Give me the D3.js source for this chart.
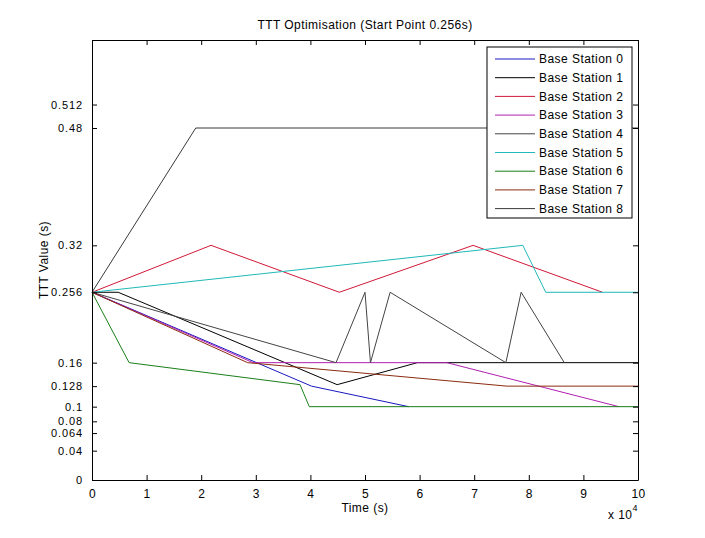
<!DOCTYPE html>
<html>
<head>
<meta charset="utf-8">
<script src="https://cdn.jsdelivr.net/npm/d3@7"></script>
<style>
  body { margin: 0; background: #fff; }
  svg { display: block; font-family: "Liberation Sans", Arial, sans-serif; }
  text { letter-spacing: 0.45px; }
  .y-axis text { letter-spacing: 0.9px; }
</style>
</head>
<body>
<svg id="chart"></svg>
<script>
// time values are in units of 10^4 s, as on the axis
const stationNames = ['Base Station 0', 'Base Station 1', 'Base Station 2', 'Base Station 3',
  'Base Station 4', 'Base Station 5', 'Base Station 6', 'Base Station 7', 'Base Station 8'];

const bs0Time = [0, 4.02, 5.8];
const bs0Ttt = [0.256, 0.128, 0.1];
const bs1Time = [0, 0.48, 4.49, 5.96, 10];
const bs1Ttt = [0.256, 0.256, 0.13, 0.16, 0.16];
const bs2Time = [0, 2.18, 4.53, 6.98, 9.35];
const bs2Ttt = [0.256, 0.32, 0.256, 0.32, 0.256];
const bs3Time = [0, 2.95, 6.5, 9.65];
const bs3Ttt = [0.256, 0.16, 0.16, 0.1];
const bs4Time = [0, 4.47, 5.0, 5.1, 5.46, 7.58, 7.86, 8.65];
const bs4Ttt = [0.256, 0.16, 0.256, 0.16, 0.256, 0.16, 0.256, 0.16];
const bs5Time = [0, 7.89, 8.31, 10];
const bs5Ttt = [0.256, 0.32, 0.256, 0.256];
const bs6Time = [0, 0.68, 3.81, 3.98, 10];
const bs6Ttt = [0.256, 0.16, 0.13, 0.1, 0.1];
const bs7Time = [0, 2.85, 7.6, 10];
const bs7Ttt = [0.256, 0.16, 0.128, 0.128];
const bs8Time = [0, 1.9, 10];
const bs8Ttt = [0.256, 0.48, 0.48];

const xTicks = [0, 1, 2, 3, 4, 5, 6, 7, 8, 9, 10];
const yTicks = [0, 0.04, 0.064, 0.08, 0.1, 0.128, 0.16, 0.256, 0.32, 0.48, 0.512];

const colors = ['#1818c0', '#000000', '#d01838', '#b020b0', '#444444',
  '#20b8b8', '#1a7f1a', '#8b2a10', '#3a3a3a'];

const times = [bs0Time, bs1Time, bs2Time, bs3Time, bs4Time, bs5Time, bs6Time, bs7Time, bs8Time];
const ttts = [bs0Ttt, bs1Ttt, bs2Ttt, bs3Ttt, bs4Ttt, bs5Ttt, bs6Ttt, bs7Ttt, bs8Ttt];
const series = stationNames.map((name, i) => ({
  name,
  color: colors[i],
  points: times[i].map((t, j) => ({ t, v: ttts[i][j] }))
}));

const width = 705;
const height = 538;
const margin = { top: 40, right: 67, bottom: 58, left: 92 };
const innerW = width - margin.left - margin.right;
const innerH = height - margin.top - margin.bottom;
const fontSize = 12;

const svg = d3.select('#chart')
  .attr('width', width)
  .attr('height', height);

const x = d3.scaleLinear().domain([0, 10]).range([margin.left, margin.left + innerW]);
const y = d3.scaleLinear().domain([0, 0.6]).range([margin.top + innerH, margin.top]);

// lines
const line = d3.line().x((d) => x(d.t)).y((d) => y(d.v));
svg.append('g')
  .selectAll('path')
  .data(series)
  .enter()
  .append('path')
  .attr('d', (d) => line(d.points))
  .attr('fill', 'none')
  .attr('stroke', (d) => d.color)
  .attr('stroke-width', 1);

// axes, matlab style: ticks inside, box on
const tickFmt = (d) => String(d);
svg.append('g')
  .attr('transform', `translate(0,${margin.top + innerH})`)
  .call(d3.axisBottom(x).tickValues(xTicks).tickSizeInner(-5).tickSizeOuter(0).tickPadding(9).tickFormat(tickFmt));
svg.append('g')
  .attr('transform', `translate(0,${margin.top})`)
  .call(d3.axisTop(x).tickValues(xTicks).tickSizeInner(-5).tickSizeOuter(0).tickFormat(''));
svg.append('g')
  .attr('class', 'y-axis')
  .attr('transform', `translate(${margin.left},0)`)
  .call(d3.axisLeft(y).tickValues(yTicks).tickSizeInner(-5).tickSizeOuter(0).tickPadding(9).tickFormat(tickFmt));
svg.append('g')
  .attr('transform', `translate(${margin.left + innerW},0)`)
  .call(d3.axisRight(y).tickValues(yTicks).tickSizeInner(-5).tickSizeOuter(0).tickFormat(''));

svg.selectAll('.domain').attr('stroke', '#000');
svg.selectAll('.tick line').attr('stroke', '#000');
svg.selectAll('.tick text').attr('font-size', fontSize).attr('fill', '#000')
  .attr('font-family', '"Liberation Sans", Arial, sans-serif');
svg.selectAll('.y-axis .tick text').attr('font-size', 11);

// titles
svg.append('text')
  .attr('x', margin.left + innerW / 2)
  .attr('y', 29)
  .attr('text-anchor', 'middle')
  .attr('font-size', fontSize)
  .text('TTT Optimisation (Start Point 0.256s)');

svg.append('text')
  .attr('x', margin.left + innerW / 2)
  .attr('y', 512)
  .attr('text-anchor', 'middle')
  .attr('font-size', fontSize)
  .text('Time (s)');

svg.append('text')
  .attr('transform', `translate(48,${margin.top + innerH / 2}) rotate(-90)`)
  .attr('text-anchor', 'middle')
  .attr('font-size', fontSize)
  .text('TTT Value (s)');

const expo = svg.append('text')
  .attr('x', 608)
  .attr('y', 519)
  .attr('font-size', fontSize);
expo.append('tspan').text('x 10');
expo.append('tspan').attr('dy', -8).attr('font-size', 9).text('4');

// legend
const legend = svg.append('g').attr('transform', 'translate(487,47)');
legend.append('rect')
  .attr('width', 145)
  .attr('height', 171)
  .attr('fill', '#fff')
  .attr('stroke', '#000');

const rowH = 18.7;
const rows = legend.selectAll('g.row')
  .data(series)
  .enter()
  .append('g')
  .attr('class', 'row')
  .attr('transform', (d, i) => `translate(0,${12 + i * rowH})`);
rows.append('line')
  .attr('x1', 8).attr('x2', 48)
  .attr('stroke', (d) => d.color);
rows.append('text')
  .attr('x', 52)
  .attr('dy', '0.35em')
  .attr('font-size', fontSize)
  .text((d) => d.name);
</script>
</body>
</html>
